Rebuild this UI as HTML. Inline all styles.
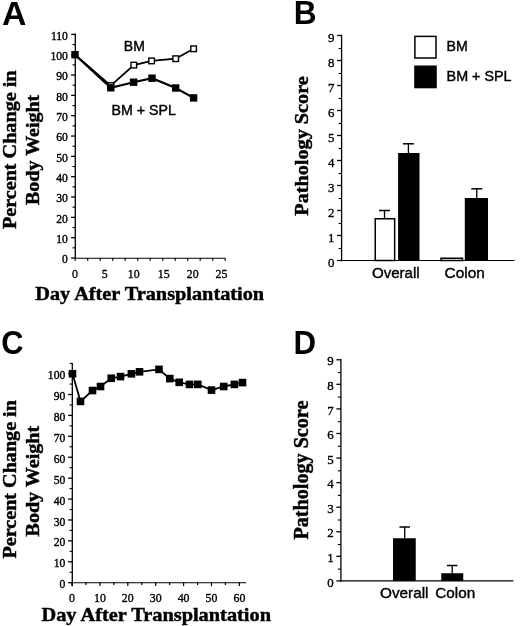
<!DOCTYPE html>
<html><head><meta charset="utf-8"><title>Figure</title>
<style>
html,body{margin:0;padding:0;background:#fff;}
body{width:520px;height:626px;overflow:hidden;}
svg{display:block;filter:grayscale(1);}
.ser{font-family:"Liberation Serif",serif;}
.san{font-family:"Liberation Sans",sans-serif;}
.b{font-weight:bold;}
.ser.b{stroke:#000;stroke-width:0.45px;}
.san{stroke:#000;stroke-width:0.4px;}
.san.b{stroke:none;}
</style></head><body>
<svg width="520" height="626" viewBox="0 0 520 626">
<rect width="520" height="626" fill="#fff"/>

<!-- Panel A -->
<text transform="translate(2,25) scale(1.005,1)" class="san b" font-size="33.7" text-anchor="start" fill="#000" >A</text>
<line x1="75.3" y1="33.6" x2="75.3" y2="258.8" stroke="#000" stroke-width="1.3"/>
<line x1="74.7" y1="258.2" x2="225" y2="258.2" stroke="#000" stroke-width="1.15"/>
<line x1="71.1" y1="258" x2="75.3" y2="258" stroke="#000" stroke-width="1.3"/>
<text transform="translate(67.9,263.4) scale(0.91,1)" class="ser" font-size="12.8" text-anchor="end" fill="#000" stroke="#000" stroke-width="0.4">0</text>
<line x1="72.5" y1="247.84" x2="75.3" y2="247.84" stroke="#000" stroke-width="1.1"/>
<line x1="71.1" y1="237.67" x2="75.3" y2="237.67" stroke="#000" stroke-width="1.3"/>
<text transform="translate(67.9,243.07) scale(0.91,1)" class="ser" font-size="12.8" text-anchor="end" fill="#000" stroke="#000" stroke-width="0.4">10</text>
<line x1="72.5" y1="227.51" x2="75.3" y2="227.51" stroke="#000" stroke-width="1.1"/>
<line x1="71.1" y1="217.35" x2="75.3" y2="217.35" stroke="#000" stroke-width="1.3"/>
<text transform="translate(67.9,222.75) scale(0.91,1)" class="ser" font-size="12.8" text-anchor="end" fill="#000" stroke="#000" stroke-width="0.4">20</text>
<line x1="72.5" y1="207.18" x2="75.3" y2="207.18" stroke="#000" stroke-width="1.1"/>
<line x1="71.1" y1="197.02" x2="75.3" y2="197.02" stroke="#000" stroke-width="1.3"/>
<text transform="translate(67.9,202.42) scale(0.91,1)" class="ser" font-size="12.8" text-anchor="end" fill="#000" stroke="#000" stroke-width="0.4">30</text>
<line x1="72.5" y1="186.85" x2="75.3" y2="186.85" stroke="#000" stroke-width="1.1"/>
<line x1="71.1" y1="176.69" x2="75.3" y2="176.69" stroke="#000" stroke-width="1.3"/>
<text transform="translate(67.9,182.09) scale(0.91,1)" class="ser" font-size="12.8" text-anchor="end" fill="#000" stroke="#000" stroke-width="0.4">40</text>
<line x1="72.5" y1="166.53" x2="75.3" y2="166.53" stroke="#000" stroke-width="1.1"/>
<line x1="71.1" y1="156.36" x2="75.3" y2="156.36" stroke="#000" stroke-width="1.3"/>
<text transform="translate(67.9,161.76) scale(0.91,1)" class="ser" font-size="12.8" text-anchor="end" fill="#000" stroke="#000" stroke-width="0.4">50</text>
<line x1="72.5" y1="146.2" x2="75.3" y2="146.2" stroke="#000" stroke-width="1.1"/>
<line x1="71.1" y1="136.04" x2="75.3" y2="136.04" stroke="#000" stroke-width="1.3"/>
<text transform="translate(67.9,141.44) scale(0.91,1)" class="ser" font-size="12.8" text-anchor="end" fill="#000" stroke="#000" stroke-width="0.4">60</text>
<line x1="72.5" y1="125.87" x2="75.3" y2="125.87" stroke="#000" stroke-width="1.1"/>
<line x1="71.1" y1="115.71" x2="75.3" y2="115.71" stroke="#000" stroke-width="1.3"/>
<text transform="translate(67.9,121.11) scale(0.91,1)" class="ser" font-size="12.8" text-anchor="end" fill="#000" stroke="#000" stroke-width="0.4">70</text>
<line x1="72.5" y1="105.55" x2="75.3" y2="105.55" stroke="#000" stroke-width="1.1"/>
<line x1="71.1" y1="95.38" x2="75.3" y2="95.38" stroke="#000" stroke-width="1.3"/>
<text transform="translate(67.9,100.78) scale(0.91,1)" class="ser" font-size="12.8" text-anchor="end" fill="#000" stroke="#000" stroke-width="0.4">80</text>
<line x1="72.5" y1="85.22" x2="75.3" y2="85.22" stroke="#000" stroke-width="1.1"/>
<line x1="71.1" y1="75.05" x2="75.3" y2="75.05" stroke="#000" stroke-width="1.3"/>
<text transform="translate(67.9,80.45) scale(0.91,1)" class="ser" font-size="12.8" text-anchor="end" fill="#000" stroke="#000" stroke-width="0.4">90</text>
<line x1="72.5" y1="64.89" x2="75.3" y2="64.89" stroke="#000" stroke-width="1.1"/>
<line x1="71.1" y1="54.73" x2="75.3" y2="54.73" stroke="#000" stroke-width="1.3"/>
<text transform="translate(67.9,60.13) scale(0.91,1)" class="ser" font-size="12.8" text-anchor="end" fill="#000" stroke="#000" stroke-width="0.4">100</text>
<line x1="72.5" y1="44.56" x2="75.3" y2="44.56" stroke="#000" stroke-width="1.1"/>
<line x1="71.1" y1="34.4" x2="75.3" y2="34.4" stroke="#000" stroke-width="1.3"/>
<text transform="translate(67.9,39.8) scale(0.91,1)" class="ser" font-size="12.8" text-anchor="end" fill="#000" stroke="#000" stroke-width="0.4">110</text>
<line x1="75.2" y1="258" x2="75.2" y2="260.8" stroke="#000" stroke-width="1.2"/>
<line x1="87.7" y1="258" x2="87.7" y2="260.8" stroke="#000" stroke-width="1.2"/>
<line x1="100.2" y1="258" x2="100.2" y2="260.8" stroke="#000" stroke-width="1.2"/>
<line x1="112.7" y1="258" x2="112.7" y2="260.8" stroke="#000" stroke-width="1.2"/>
<line x1="125.2" y1="258" x2="125.2" y2="260.8" stroke="#000" stroke-width="1.2"/>
<line x1="137.7" y1="258" x2="137.7" y2="260.8" stroke="#000" stroke-width="1.2"/>
<line x1="150.2" y1="258" x2="150.2" y2="260.8" stroke="#000" stroke-width="1.2"/>
<line x1="162.7" y1="258" x2="162.7" y2="260.8" stroke="#000" stroke-width="1.2"/>
<line x1="175.2" y1="258" x2="175.2" y2="260.8" stroke="#000" stroke-width="1.2"/>
<line x1="187.7" y1="258" x2="187.7" y2="260.8" stroke="#000" stroke-width="1.2"/>
<line x1="200.2" y1="258" x2="200.2" y2="260.8" stroke="#000" stroke-width="1.2"/>
<line x1="212.7" y1="258" x2="212.7" y2="260.8" stroke="#000" stroke-width="1.2"/>
<line x1="225.2" y1="258" x2="225.2" y2="260.8" stroke="#000" stroke-width="1.2"/>
<text transform="translate(75,277.6) scale(0.95,1)" class="ser" font-size="12.5" text-anchor="middle" fill="#000" stroke="#000" stroke-width="0.35">0</text>
<text transform="translate(104.7,277.6) scale(0.95,1)" class="ser" font-size="12.5" text-anchor="middle" fill="#000" stroke="#000" stroke-width="0.35">5</text>
<text transform="translate(133.8,277.6) scale(0.95,1)" class="ser" font-size="12.5" text-anchor="middle" fill="#000" stroke="#000" stroke-width="0.35">10</text>
<text transform="translate(163.8,277.6) scale(0.95,1)" class="ser" font-size="12.5" text-anchor="middle" fill="#000" stroke="#000" stroke-width="0.35">15</text>
<text transform="translate(192.8,277.6) scale(0.95,1)" class="ser" font-size="12.5" text-anchor="middle" fill="#000" stroke="#000" stroke-width="0.35">20</text>
<text transform="translate(221.5,277.6) scale(0.95,1)" class="ser" font-size="12.5" text-anchor="middle" fill="#000" stroke="#000" stroke-width="0.35">25</text>
<polyline fill="none" stroke="#000" stroke-width="1.8" points="75,54.7 110.8,85.6 133.8,65.1 151.6,60.9 175.7,58.7 193.6,48.8"/>
<rect x="108" y="82.8" width="5.6" height="5.6" fill="#fff" stroke="#000" stroke-width="1.4"/>
<rect x="131" y="62.3" width="5.6" height="5.6" fill="#fff" stroke="#000" stroke-width="1.4"/>
<rect x="148.8" y="58.1" width="5.6" height="5.6" fill="#fff" stroke="#000" stroke-width="1.4"/>
<rect x="172.9" y="55.9" width="5.6" height="5.6" fill="#fff" stroke="#000" stroke-width="1.4"/>
<rect x="190.8" y="46" width="5.6" height="5.6" fill="#fff" stroke="#000" stroke-width="1.4"/>
<polyline fill="none" stroke="#000" stroke-width="2.2" points="75,54.7 110.8,87.8 133.6,82.2 152,78.2 175.7,88 193.6,97.9"/>
<rect x="71.3" y="51" width="7.4" height="7.4" fill="#000"/>
<rect x="107.1" y="84.1" width="7.4" height="7.4" fill="#000"/>
<rect x="129.9" y="78.5" width="7.4" height="7.4" fill="#000"/>
<rect x="148.3" y="74.5" width="7.4" height="7.4" fill="#000"/>
<rect x="172" y="84.3" width="7.4" height="7.4" fill="#000"/>
<rect x="189.9" y="94.2" width="7.4" height="7.4" fill="#000"/>
<text x="123.8" y="51" class="san" font-size="14" text-anchor="start" fill="#000" >BM</text>
<text transform="translate(111.5,114.8) scale(1.015,1)" class="san" font-size="14" text-anchor="start" fill="#000" >BM + SPL</text>
<text transform="translate(15.5,149.8) rotate(-90) scale(1.061,1)" class="ser b" font-size="19" text-anchor="middle" fill="#000" >Percent Change in</text>
<text transform="translate(38.8,149.85) rotate(-90) scale(1.054,1)" class="ser b" font-size="19" text-anchor="middle" fill="#000" >Body Weight</text>
<text transform="translate(35.3,299.8) scale(1.041,1)" class="ser b" font-size="19.5" text-anchor="start" fill="#000" >Day After Transplantation</text>
<!-- Panel B -->
<text transform="translate(293.7,24.4) scale(0.967,1)" class="san b" font-size="32.7" text-anchor="start" fill="#000" >B</text>
<line x1="341.6" y1="34.7" x2="341.6" y2="261.3" stroke="#000" stroke-width="1.3"/>
<line x1="341" y1="260.5" x2="514.5" y2="260.5" stroke="#000" stroke-width="1.15"/>
<line x1="337.1" y1="260.5" x2="341.6" y2="260.5" stroke="#000" stroke-width="1.3"/>
<text transform="translate(334.5,266.5) scale(0.97,1)" class="ser" font-size="13.3" text-anchor="end" fill="#000" stroke="#000" stroke-width="0.35">0</text>
<line x1="338.6" y1="248.5" x2="341.6" y2="248.5" stroke="#000" stroke-width="1.15"/>
<line x1="337.1" y1="235.5" x2="341.6" y2="235.5" stroke="#000" stroke-width="1.3"/>
<text transform="translate(334.5,241.5) scale(0.97,1)" class="ser" font-size="13.3" text-anchor="end" fill="#000" stroke="#000" stroke-width="0.35">1</text>
<line x1="338.6" y1="223.5" x2="341.6" y2="223.5" stroke="#000" stroke-width="1.15"/>
<line x1="337.1" y1="210.5" x2="341.6" y2="210.5" stroke="#000" stroke-width="1.3"/>
<text transform="translate(334.5,216.5) scale(0.97,1)" class="ser" font-size="13.3" text-anchor="end" fill="#000" stroke="#000" stroke-width="0.35">2</text>
<line x1="338.6" y1="198.5" x2="341.6" y2="198.5" stroke="#000" stroke-width="1.15"/>
<line x1="337.1" y1="185.5" x2="341.6" y2="185.5" stroke="#000" stroke-width="1.3"/>
<text transform="translate(334.5,191.5) scale(0.97,1)" class="ser" font-size="13.3" text-anchor="end" fill="#000" stroke="#000" stroke-width="0.35">3</text>
<line x1="338.6" y1="173.5" x2="341.6" y2="173.5" stroke="#000" stroke-width="1.15"/>
<line x1="337.1" y1="160.5" x2="341.6" y2="160.5" stroke="#000" stroke-width="1.3"/>
<text transform="translate(334.5,166.5) scale(0.97,1)" class="ser" font-size="13.3" text-anchor="end" fill="#000" stroke="#000" stroke-width="0.35">4</text>
<line x1="338.6" y1="148.5" x2="341.6" y2="148.5" stroke="#000" stroke-width="1.15"/>
<line x1="337.1" y1="135.5" x2="341.6" y2="135.5" stroke="#000" stroke-width="1.3"/>
<text transform="translate(334.5,141.5) scale(0.97,1)" class="ser" font-size="13.3" text-anchor="end" fill="#000" stroke="#000" stroke-width="0.35">5</text>
<line x1="338.6" y1="123.5" x2="341.6" y2="123.5" stroke="#000" stroke-width="1.15"/>
<line x1="337.1" y1="110.5" x2="341.6" y2="110.5" stroke="#000" stroke-width="1.3"/>
<text transform="translate(334.5,116.5) scale(0.97,1)" class="ser" font-size="13.3" text-anchor="end" fill="#000" stroke="#000" stroke-width="0.35">6</text>
<line x1="338.6" y1="98.5" x2="341.6" y2="98.5" stroke="#000" stroke-width="1.15"/>
<line x1="337.1" y1="85.5" x2="341.6" y2="85.5" stroke="#000" stroke-width="1.3"/>
<text transform="translate(334.5,91.5) scale(0.97,1)" class="ser" font-size="13.3" text-anchor="end" fill="#000" stroke="#000" stroke-width="0.35">7</text>
<line x1="338.6" y1="73.5" x2="341.6" y2="73.5" stroke="#000" stroke-width="1.15"/>
<line x1="337.1" y1="60.5" x2="341.6" y2="60.5" stroke="#000" stroke-width="1.3"/>
<text transform="translate(334.5,66.5) scale(0.97,1)" class="ser" font-size="13.3" text-anchor="end" fill="#000" stroke="#000" stroke-width="0.35">8</text>
<line x1="338.6" y1="48.5" x2="341.6" y2="48.5" stroke="#000" stroke-width="1.15"/>
<line x1="337.1" y1="35.5" x2="341.6" y2="35.5" stroke="#000" stroke-width="1.3"/>
<text transform="translate(334.5,41.5) scale(0.97,1)" class="ser" font-size="13.3" text-anchor="end" fill="#000" stroke="#000" stroke-width="0.35">9</text>
<rect x="375.25" y="218.75" width="19.4" height="41.75" fill="#fff" stroke="#000" stroke-width="1.5"/>
<line x1="384.5" y1="210.5" x2="384.5" y2="218" stroke="#000" stroke-width="1.3"/>
<line x1="379" y1="210.5" x2="390" y2="210.5" stroke="#000" stroke-width="1.5"/>
<rect x="398.1" y="153" width="21.4" height="107.5" fill="#000"/>
<line x1="408.4" y1="143.8" x2="408.4" y2="153" stroke="#000" stroke-width="1.3"/>
<line x1="402.9" y1="143.8" x2="413.9" y2="143.8" stroke="#000" stroke-width="1.5"/>
<rect x="441.05" y="258.25" width="21.45" height="2.25" fill="#fff" stroke="#000" stroke-width="1.5"/>
<rect x="464.8" y="198" width="23.2" height="62.5" fill="#000"/>
<line x1="476.8" y1="188.8" x2="476.8" y2="198" stroke="#000" stroke-width="1.3"/>
<line x1="471.3" y1="188.8" x2="482.3" y2="188.8" stroke="#000" stroke-width="1.5"/>
<rect x="414.9" y="36.4" width="21.1" height="21.6" fill="#fff" stroke="#000" stroke-width="1.5"/>
<rect x="414.2" y="65.5" width="22.6" height="22.8" fill="#000"/>
<text transform="translate(446.6,51.3) scale(1.01,1)" class="san" font-size="14" text-anchor="start" fill="#000" >BM</text>
<text transform="translate(446.6,80.7) scale(1.025,1)" class="san" font-size="14" text-anchor="start" fill="#000" >BM + SPL</text>
<text transform="translate(372,277.8) scale(1.005,1)" class="san" font-size="15" text-anchor="start" fill="#000" >Overall</text>
<text transform="translate(444.6,277.8) scale(1.03,1)" class="san" font-size="15" text-anchor="start" fill="#000" >Colon</text>
<text transform="translate(308.1,146) rotate(-90) scale(1.037,1)" class="ser b" font-size="19.5" text-anchor="middle" fill="#000" >Pathology Score</text>
<!-- Panel C -->
<text transform="translate(1.35,354.3) scale(0.905,1)" class="san b" font-size="34" text-anchor="start" fill="#000" >C</text>
<line x1="72.3" y1="363" x2="72.3" y2="586.2" stroke="#000" stroke-width="1.3"/>
<line x1="69.8" y1="363.4" x2="72.3" y2="363.4" stroke="#000" stroke-width="1.1"/>
<line x1="71.7" y1="582.7" x2="246" y2="582.7" stroke="#000" stroke-width="1.15"/>
<line x1="68.1" y1="582.7" x2="72.3" y2="582.7" stroke="#000" stroke-width="1.3"/>
<text transform="translate(65.3,588.3) scale(0.91,1)" class="ser" font-size="12.8" text-anchor="end" fill="#000" stroke="#000" stroke-width="0.4">0</text>
<line x1="69.5" y1="572.25" x2="72.3" y2="572.25" stroke="#000" stroke-width="1.1"/>
<line x1="68.1" y1="561.79" x2="72.3" y2="561.79" stroke="#000" stroke-width="1.3"/>
<text transform="translate(65.3,567.39) scale(0.91,1)" class="ser" font-size="12.8" text-anchor="end" fill="#000" stroke="#000" stroke-width="0.4">10</text>
<line x1="69.5" y1="551.34" x2="72.3" y2="551.34" stroke="#000" stroke-width="1.1"/>
<line x1="68.1" y1="540.88" x2="72.3" y2="540.88" stroke="#000" stroke-width="1.3"/>
<text transform="translate(65.3,546.48) scale(0.91,1)" class="ser" font-size="12.8" text-anchor="end" fill="#000" stroke="#000" stroke-width="0.4">20</text>
<line x1="69.5" y1="530.43" x2="72.3" y2="530.43" stroke="#000" stroke-width="1.1"/>
<line x1="68.1" y1="519.97" x2="72.3" y2="519.97" stroke="#000" stroke-width="1.3"/>
<text transform="translate(65.3,525.57) scale(0.91,1)" class="ser" font-size="12.8" text-anchor="end" fill="#000" stroke="#000" stroke-width="0.4">30</text>
<line x1="69.5" y1="509.52" x2="72.3" y2="509.52" stroke="#000" stroke-width="1.1"/>
<line x1="68.1" y1="499.06" x2="72.3" y2="499.06" stroke="#000" stroke-width="1.3"/>
<text transform="translate(65.3,504.66) scale(0.91,1)" class="ser" font-size="12.8" text-anchor="end" fill="#000" stroke="#000" stroke-width="0.4">40</text>
<line x1="69.5" y1="488.61" x2="72.3" y2="488.61" stroke="#000" stroke-width="1.1"/>
<line x1="68.1" y1="478.15" x2="72.3" y2="478.15" stroke="#000" stroke-width="1.3"/>
<text transform="translate(65.3,483.75) scale(0.91,1)" class="ser" font-size="12.8" text-anchor="end" fill="#000" stroke="#000" stroke-width="0.4">50</text>
<line x1="69.5" y1="467.7" x2="72.3" y2="467.7" stroke="#000" stroke-width="1.1"/>
<line x1="68.1" y1="457.24" x2="72.3" y2="457.24" stroke="#000" stroke-width="1.3"/>
<text transform="translate(65.3,462.84) scale(0.91,1)" class="ser" font-size="12.8" text-anchor="end" fill="#000" stroke="#000" stroke-width="0.4">60</text>
<line x1="69.5" y1="446.79" x2="72.3" y2="446.79" stroke="#000" stroke-width="1.1"/>
<line x1="68.1" y1="436.33" x2="72.3" y2="436.33" stroke="#000" stroke-width="1.3"/>
<text transform="translate(65.3,441.93) scale(0.91,1)" class="ser" font-size="12.8" text-anchor="end" fill="#000" stroke="#000" stroke-width="0.4">70</text>
<line x1="69.5" y1="425.88" x2="72.3" y2="425.88" stroke="#000" stroke-width="1.1"/>
<line x1="68.1" y1="415.42" x2="72.3" y2="415.42" stroke="#000" stroke-width="1.3"/>
<text transform="translate(65.3,421.02) scale(0.91,1)" class="ser" font-size="12.8" text-anchor="end" fill="#000" stroke="#000" stroke-width="0.4">80</text>
<line x1="69.5" y1="404.97" x2="72.3" y2="404.97" stroke="#000" stroke-width="1.1"/>
<line x1="68.1" y1="394.51" x2="72.3" y2="394.51" stroke="#000" stroke-width="1.3"/>
<text transform="translate(65.3,400.11) scale(0.91,1)" class="ser" font-size="12.8" text-anchor="end" fill="#000" stroke="#000" stroke-width="0.4">90</text>
<line x1="69.5" y1="384.06" x2="72.3" y2="384.06" stroke="#000" stroke-width="1.1"/>
<line x1="68.1" y1="373.6" x2="72.3" y2="373.6" stroke="#000" stroke-width="1.3"/>
<text transform="translate(65.3,379.2) scale(0.91,1)" class="ser" font-size="12.8" text-anchor="end" fill="#000" stroke="#000" stroke-width="0.4">100</text>
<line x1="72" y1="581.9" x2="72" y2="586.1" stroke="#000" stroke-width="1.2"/>
<text transform="translate(72,602) scale(0.95,1)" class="ser" font-size="12.5" text-anchor="middle" fill="#000" stroke="#000" stroke-width="0.35">0</text>
<line x1="85.95" y1="581.9" x2="85.95" y2="585" stroke="#000" stroke-width="1.2"/>
<line x1="99.9" y1="581.9" x2="99.9" y2="586.1" stroke="#000" stroke-width="1.2"/>
<text transform="translate(99.9,602) scale(0.95,1)" class="ser" font-size="12.5" text-anchor="middle" fill="#000" stroke="#000" stroke-width="0.35">10</text>
<line x1="113.85" y1="581.9" x2="113.85" y2="585" stroke="#000" stroke-width="1.2"/>
<line x1="127.8" y1="581.9" x2="127.8" y2="586.1" stroke="#000" stroke-width="1.2"/>
<text transform="translate(127.8,602) scale(0.95,1)" class="ser" font-size="12.5" text-anchor="middle" fill="#000" stroke="#000" stroke-width="0.35">20</text>
<line x1="141.75" y1="581.9" x2="141.75" y2="585" stroke="#000" stroke-width="1.2"/>
<line x1="155.7" y1="581.9" x2="155.7" y2="586.1" stroke="#000" stroke-width="1.2"/>
<text transform="translate(155.7,602) scale(0.95,1)" class="ser" font-size="12.5" text-anchor="middle" fill="#000" stroke="#000" stroke-width="0.35">30</text>
<line x1="169.65" y1="581.9" x2="169.65" y2="585" stroke="#000" stroke-width="1.2"/>
<line x1="183.6" y1="581.9" x2="183.6" y2="586.1" stroke="#000" stroke-width="1.2"/>
<text transform="translate(183.6,602) scale(0.95,1)" class="ser" font-size="12.5" text-anchor="middle" fill="#000" stroke="#000" stroke-width="0.35">40</text>
<line x1="197.55" y1="581.9" x2="197.55" y2="585" stroke="#000" stroke-width="1.2"/>
<line x1="211.5" y1="581.9" x2="211.5" y2="586.1" stroke="#000" stroke-width="1.2"/>
<text transform="translate(211.5,602) scale(0.95,1)" class="ser" font-size="12.5" text-anchor="middle" fill="#000" stroke="#000" stroke-width="0.35">50</text>
<line x1="225.45" y1="581.9" x2="225.45" y2="585" stroke="#000" stroke-width="1.2"/>
<line x1="239.4" y1="581.9" x2="239.4" y2="586.1" stroke="#000" stroke-width="1.2"/>
<text transform="translate(239.4,602) scale(0.95,1)" class="ser" font-size="12.5" text-anchor="middle" fill="#000" stroke="#000" stroke-width="0.35">60</text>
<polyline fill="none" stroke="#000" stroke-width="1.8" points="72.5,373.75 80.5,401.4 92.5,390.5 100.5,386.5 111.25,378.25 120.5,376.6 131.4,373.8 139.5,371.8 159,369.4 169.8,378.6 179.2,382.3 189.5,384.4 197.8,384.4 211.5,390.1 223.7,386.5 234.4,384.4 242.5,382.6"/>
<rect x="68.7" y="369.95" width="7.6" height="7.6" fill="#000"/>
<rect x="76.7" y="397.6" width="7.6" height="7.6" fill="#000"/>
<rect x="88.7" y="386.7" width="7.6" height="7.6" fill="#000"/>
<rect x="96.7" y="382.7" width="7.6" height="7.6" fill="#000"/>
<rect x="107.45" y="374.45" width="7.6" height="7.6" fill="#000"/>
<rect x="116.7" y="372.8" width="7.6" height="7.6" fill="#000"/>
<rect x="127.6" y="370" width="7.6" height="7.6" fill="#000"/>
<rect x="135.7" y="368" width="7.6" height="7.6" fill="#000"/>
<rect x="155.2" y="365.6" width="7.6" height="7.6" fill="#000"/>
<rect x="166" y="374.8" width="7.6" height="7.6" fill="#000"/>
<rect x="175.4" y="378.5" width="7.6" height="7.6" fill="#000"/>
<rect x="185.7" y="380.6" width="7.6" height="7.6" fill="#000"/>
<rect x="194" y="380.6" width="7.6" height="7.6" fill="#000"/>
<rect x="207.7" y="386.3" width="7.6" height="7.6" fill="#000"/>
<rect x="219.9" y="382.7" width="7.6" height="7.6" fill="#000"/>
<rect x="230.6" y="380.6" width="7.6" height="7.6" fill="#000"/>
<rect x="238.7" y="378.8" width="7.6" height="7.6" fill="#000"/>
<text transform="translate(15.5,479.3) rotate(-90) scale(1.06,1)" class="ser b" font-size="19" text-anchor="middle" fill="#000" >Percent Change in</text>
<text transform="translate(39.3,481.15) rotate(-90) scale(1.058,1)" class="ser b" font-size="19" text-anchor="middle" fill="#000" >Body Weight</text>
<text transform="translate(41.5,620.8) scale(1.044,1)" class="ser b" font-size="19.5" text-anchor="start" fill="#000" >Day After Transplantation</text>
<!-- Panel D -->
<text transform="translate(293.45,353.5) scale(0.957,1)" class="san b" font-size="32.7" text-anchor="start" fill="#000" >D</text>
<line x1="340.9" y1="358.97" x2="340.9" y2="581.7" stroke="#000" stroke-width="1.3"/>
<line x1="340.3" y1="580.9" x2="513.4" y2="580.9" stroke="#000" stroke-width="1.15"/>
<line x1="336.4" y1="580.9" x2="340.9" y2="580.9" stroke="#000" stroke-width="1.3"/>
<text transform="translate(333.7,586.6) scale(0.97,1)" class="ser" font-size="13.3" text-anchor="end" fill="#000" stroke="#000" stroke-width="0.35">0</text>
<line x1="337.9" y1="569.12" x2="340.9" y2="569.12" stroke="#000" stroke-width="1.15"/>
<line x1="336.4" y1="556.33" x2="340.9" y2="556.33" stroke="#000" stroke-width="1.3"/>
<text transform="translate(333.7,562.03) scale(0.97,1)" class="ser" font-size="13.3" text-anchor="end" fill="#000" stroke="#000" stroke-width="0.35">1</text>
<line x1="337.9" y1="544.54" x2="340.9" y2="544.54" stroke="#000" stroke-width="1.15"/>
<line x1="336.4" y1="531.76" x2="340.9" y2="531.76" stroke="#000" stroke-width="1.3"/>
<text transform="translate(333.7,537.46) scale(0.97,1)" class="ser" font-size="13.3" text-anchor="end" fill="#000" stroke="#000" stroke-width="0.35">2</text>
<line x1="337.9" y1="519.98" x2="340.9" y2="519.98" stroke="#000" stroke-width="1.15"/>
<line x1="336.4" y1="507.19" x2="340.9" y2="507.19" stroke="#000" stroke-width="1.3"/>
<text transform="translate(333.7,512.89) scale(0.97,1)" class="ser" font-size="13.3" text-anchor="end" fill="#000" stroke="#000" stroke-width="0.35">3</text>
<line x1="337.9" y1="495.4" x2="340.9" y2="495.4" stroke="#000" stroke-width="1.15"/>
<line x1="336.4" y1="482.62" x2="340.9" y2="482.62" stroke="#000" stroke-width="1.3"/>
<text transform="translate(333.7,488.32) scale(0.97,1)" class="ser" font-size="13.3" text-anchor="end" fill="#000" stroke="#000" stroke-width="0.35">4</text>
<line x1="337.9" y1="470.83" x2="340.9" y2="470.83" stroke="#000" stroke-width="1.15"/>
<line x1="336.4" y1="458.05" x2="340.9" y2="458.05" stroke="#000" stroke-width="1.3"/>
<text transform="translate(333.7,463.75) scale(0.97,1)" class="ser" font-size="13.3" text-anchor="end" fill="#000" stroke="#000" stroke-width="0.35">5</text>
<line x1="337.9" y1="446.26" x2="340.9" y2="446.26" stroke="#000" stroke-width="1.15"/>
<line x1="336.4" y1="433.48" x2="340.9" y2="433.48" stroke="#000" stroke-width="1.3"/>
<text transform="translate(333.7,439.18) scale(0.97,1)" class="ser" font-size="13.3" text-anchor="end" fill="#000" stroke="#000" stroke-width="0.35">6</text>
<line x1="337.9" y1="421.69" x2="340.9" y2="421.69" stroke="#000" stroke-width="1.15"/>
<line x1="336.4" y1="408.91" x2="340.9" y2="408.91" stroke="#000" stroke-width="1.3"/>
<text transform="translate(333.7,414.61) scale(0.97,1)" class="ser" font-size="13.3" text-anchor="end" fill="#000" stroke="#000" stroke-width="0.35">7</text>
<line x1="337.9" y1="397.12" x2="340.9" y2="397.12" stroke="#000" stroke-width="1.15"/>
<line x1="336.4" y1="384.34" x2="340.9" y2="384.34" stroke="#000" stroke-width="1.3"/>
<text transform="translate(333.7,390.04) scale(0.97,1)" class="ser" font-size="13.3" text-anchor="end" fill="#000" stroke="#000" stroke-width="0.35">8</text>
<line x1="337.9" y1="372.55" x2="340.9" y2="372.55" stroke="#000" stroke-width="1.15"/>
<line x1="336.4" y1="359.77" x2="340.9" y2="359.77" stroke="#000" stroke-width="1.3"/>
<text transform="translate(333.7,365.47) scale(0.97,1)" class="ser" font-size="13.3" text-anchor="end" fill="#000" stroke="#000" stroke-width="0.35">9</text>
<rect x="393" y="538.25" width="22.75" height="42.65" fill="#000"/>
<line x1="404.7" y1="527" x2="404.7" y2="538.25" stroke="#000" stroke-width="1.3"/>
<line x1="399.45" y1="527" x2="409.95" y2="527" stroke="#000" stroke-width="1.5"/>
<rect x="441.25" y="573.25" width="22" height="7.65" fill="#000"/>
<line x1="452.2" y1="565.5" x2="452.2" y2="573.25" stroke="#000" stroke-width="1.3"/>
<line x1="446.95" y1="565.5" x2="457.45" y2="565.5" stroke="#000" stroke-width="1.5"/>
<text transform="translate(380,598.2) scale(1.02,1)" class="san" font-size="15" text-anchor="start" fill="#000" >Overall</text>
<text transform="translate(435.2,598.2) scale(1.02,1)" class="san" font-size="15" text-anchor="start" fill="#000" >Colon</text>
<text transform="translate(307.9,470.1) rotate(-90) scale(1.007,1)" class="ser b" font-size="20" text-anchor="middle" fill="#000" >Pathology Score</text>
</svg></body></html>
